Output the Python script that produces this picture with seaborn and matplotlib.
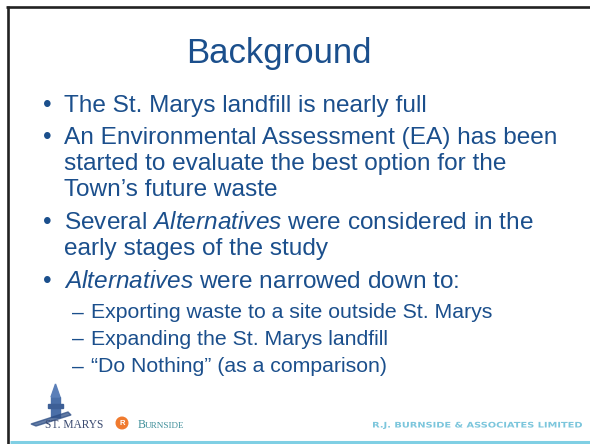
import matplotlib
matplotlib.use("Agg")
import matplotlib.pyplot as plt
import matplotlib.transforms as mtransforms
import seaborn as sns
from matplotlib.patches import Polygon, Circle, Rectangle, PathPatch
from matplotlib.textpath import TextPath
from matplotlib.font_manager import FontProperties

sns.set_theme(style="white")
plt.rcParams['font.family'] = ['Liberation Sans', 'DejaVu Sans']
plt.rcParams['mathtext.fontset'] = 'custom'
plt.rcParams['mathtext.rm'] = 'Liberation Sans'
plt.rcParams['mathtext.it'] = 'Liberation Sans:italic'

# slide text
title = "Background"
bullets = [
    ["The St. Marys landfill is nearly full"],
    ["An Environmental Assessment (EA) has been",
     "started to evaluate the best option for the",
     "Town\u2019s future waste"],
    ["Several $\\mathit{Alternatives}$ were considered in the",
     "early stages of the study"],
    ["$\\mathit{Alternatives}$ were narrowed down to:"],
]
sub_items = [
    "Exporting waste to a site outside St. Marys",
    "Expanding the St. Marys landfill",
    "\u201cDo Nothing\u201d (as a comparison)",
]
footer_right = "R.J. BURNSIDE & ASSOCIATES LIMITED"

blue = "#1b4f8c"

fig = plt.figure(figsize=(5.9, 4.44), dpi=100)
ax = fig.add_axes([0, 0, 1, 1])
ax.set_xlim(0, 590)
ax.set_ylim(444, 0)
ax.axis("off")

# frame
ax.plot([6, 590], [7.3, 7.3], color="#222222", lw=1.9, solid_capstyle="butt")
ax.plot([7.5, 7.5], [6, 444], color="#222222", lw=1.9, solid_capstyle="butt")
ax.plot([10, 590], [442, 442], color="#7fcfe4", lw=2.2, solid_capstyle="butt")

ax.text(279, 63, title, fontsize=25, color=blue, ha="center", va="baseline")

# bullets (baselines in px)
line_y = [[111.5], [144.3, 170, 196], [229.3, 255], [288.3]]
for lines, ys in zip(bullets, line_y):
    ax.text(47, ys[0], "\u2022", fontsize=17.6, color=blue, ha="center", va="baseline")
    for txt, y in zip(lines, ys):
        ax.text(64, y, txt, fontsize=17.6, color=blue, ha="left", va="baseline")

sub_y = [318.3, 345, 372.3]
for txt, y in zip(sub_items, sub_y):
    ax.text(72, y, "\u2013", fontsize=15.3, color=blue, ha="left", va="baseline")
    ax.text(91, y, txt, fontsize=15.3, color=blue, ha="left", va="baseline")

# St. Marys logo (simple tower)
ax.add_patch(Rectangle((51, 397), 9, 20, color="#4a6fa8"))
ax.add_patch(Polygon([[51, 397], [60, 397], [55.5, 384]], color="#5b7fb8"))
ax.add_patch(Rectangle((48, 404), 15, 4, color="#3d5f96"))
ax.add_patch(Polygon([[31, 424], [68, 412], [71, 415], [36, 426]], color="#2e4f86", alpha=0.75))
ax.text(45, 428, "ST. MARYS", fontsize=8.3, family="Liberation Serif", color="#3a4a70",
        ha="left", va="baseline")

# Burnside logo
ax.add_patch(Circle((122, 423), 5.8, color="#f07a2e"))
ax.text(122, 423.5, "R", fontsize=5.5, color="white", ha="center", va="center", fontweight="bold")
ax.text(138, 428, "B", fontsize=8.5, family="Liberation Serif", color="#3f8f9a",
        ha="left", va="baseline")
ax.text(144.5, 428, "URNSIDE", fontsize=6.6, family="Liberation Serif", color="#3f8f9a",
        ha="left", va="baseline")

# company name, stretched wide
tp = TextPath((0, 0), footer_right, size=10,
              prop=FontProperties(family="DejaVu Sans", weight="bold"))
bb = tp.get_extents()
sx = 209 / bb.width
sy = 5.6 / 7.3
tr = mtransforms.Affine2D().translate(-bb.x0, 0).scale(sx, -sy).translate(373, 427.5)
ax.add_patch(PathPatch(tp, transform=tr + ax.transData, color="#7cc6dc", lw=0))

fig.savefig("out.png", dpi=100, facecolor="white")
